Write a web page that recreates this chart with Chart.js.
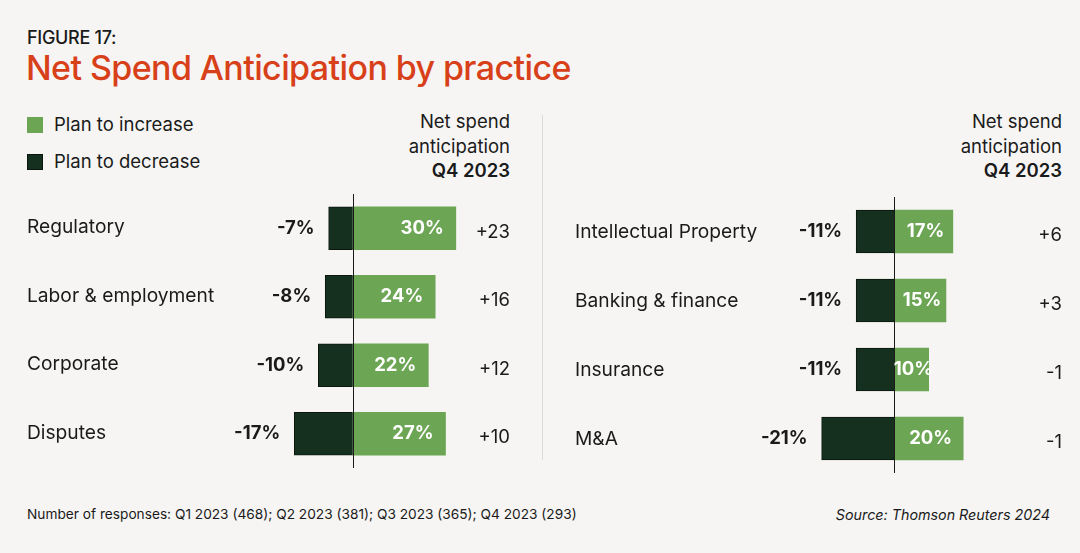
<!DOCTYPE html>
<html>
<head>
<meta charset="utf-8">
<script src="https://cdn.jsdelivr.net/npm/chart.js@4"></script>
<style>
  body { margin: 0; background: #f6f5f3; font-family: Inter, "Noto Sans", sans-serif; color: #1a1a1a; }
  #page { position: relative; width: 1080px; height: 553px; overflow: hidden; }
  .abs { position: absolute; white-space: nowrap; }
  #fig { left: 27px; top: 27px; font-size: 18px; font-weight: 500; letter-spacing: -0.3px; }
  #title { left: 26px; top: 47px; font-size: 34px; font-weight: 500; color: #d8401a; letter-spacing: -0.6px; }
  .legend { left: 27px; font-size: 18.5px; }
  .legend span { display: inline-block; width: 16px; height: 16px; vertical-align: -2px; margin-right: 11px; }
  .head { font-size: 18.5px; line-height: 24.5px; text-align: right; }
  .head b { font-weight: 600; }
  #divider { left: 542px; top: 115px; width: 1px; height: 345px; background: #dcdad6; }
  .foot { top: 506px; font-size: 13.7px; }
  canvas { position: absolute; }
</style>
</head>
<body>
<div id="page">
  <div class="abs" id="fig">FIGURE 17:</div>
  <div class="abs" id="title">Net Spend Anticipation by practice</div>

  <div class="abs legend" style="top:113px"><span style="background:#6ca553"></span>Plan to increase</div>
  <div class="abs legend" style="top:150px"><span style="background:#15301f;border:1px solid #0a160e;width:14px;height:14px"></span>Plan to decrease</div>

  <div class="abs head" style="right:570px; top:109px">Net spend<br>anticipation<br><b>Q4 2023</b></div>
  <div class="abs head" style="right:18px; top:109px">Net spend<br>anticipation<br><b>Q4 2023</b></div>

  <div class="abs" id="divider"></div>

  <canvas id="left-chart" width="540" height="280" style="left:0; top:190px"></canvas>
  <canvas id="right-chart" width="540" height="285" style="left:540px; top:190px"></canvas>

  <div class="abs foot" style="left:27px">Number of responses: Q1 2023 (468); Q2 2023 (381); Q3 2023 (365); Q4 2023 (293)</div>
  <div class="abs foot" style="right:30px; font-style:italic; font-size:14.3px">Source: Thomson Reuters 2024</div>
</div>

<script>
// Left panel
const practicesLeft = ['Regulatory', 'Labor & employment', 'Corporate', 'Disputes'];
const decreaseLeft = [-7, -8, -10, -17];
const increaseLeft = [30, 24, 22, 27];
const netLeft = [23, 16, 12, 10];

// Right panel
const practicesRight = ['Intellectual Property', 'Banking & finance', 'Insurance', 'M&A'];
const decreaseRight = [-11, -11, -11, -21];
const increaseRight = [17, 15, 10, 20];
const netRight = [6, 3, -1, -1];

const GREEN = '#6ca553';
const DARK = '#15301f';
const FONT = 'Inter, "Noto Sans", sans-serif';

// Draws zero line, row labels, value labels and net column
const rowLabels = {
  id: 'rowLabels',
  afterDatasetsDraw(chart, args, opts) {
    const { ctx, chartArea, scales: { x } } = chart;
    const x0 = Math.round(x.getPixelForValue(0)) + 0.5;
    ctx.save();
    ctx.strokeStyle = '#1a1a1a';
    ctx.lineWidth = 1;
    ctx.beginPath();
    ctx.moveTo(x0, chartArea.top);
    ctx.lineTo(x0, chartArea.bottom);
    ctx.stroke();

    const dec = chart.getDatasetMeta(0).data;
    const inc = chart.getDatasetMeta(1).data;
    const decVals = chart.data.datasets[0].data;
    const incVals = chart.data.datasets[1].data;
    ctx.textBaseline = 'middle';

    chart.data.labels.forEach((label, i) => {
      const yc = dec[i].y;

      ctx.font = '400 19.2px ' + FONT;
      ctx.fillStyle = '#1a1a1a';
      ctx.textAlign = 'left';
      ctx.fillText(label, opts.labelX, yc - 1 + opts.labelDy);

      ctx.font = '700 18.5px ' + FONT;
      ctx.textAlign = 'right';
      ctx.fillText(decVals[i] + '%', dec[i].x - 14, yc);

      ctx.fillStyle = '#ffffff';
      if (opts.incAlign === 'center') {
        ctx.textAlign = 'center';
        ctx.fillText(incVals[i] + '%', (inc[i].x + inc[i].base) / 2 + 2, yc);
      } else {
        ctx.textAlign = 'right';
        ctx.fillText(incVals[i] + '%', inc[i].x - 12, yc);
      }

      const n = opts.net[i];
      ctx.font = '400 18.5px ' + FONT;
      ctx.fillStyle = '#1a1a1a';
      ctx.textAlign = 'right';
      ctx.fillText((n > 0 ? '+' : '') + n, opts.netX, yc + 4);
    });
    ctx.restore();
  }
};

function makeChart(id, labels, dec, inc, net, pad, labelOpts) {
  return new Chart(document.getElementById(id), {
    type: 'bar',
    data: {
      labels: labels,
      datasets: [{
        label: 'Plan to decrease',
        data: dec,
        backgroundColor: DARK,
        borderColor: '#0a160e',
        borderWidth: 1,
        barThickness: 43
      }, {
        label: 'Plan to increase',
        data: inc,
        backgroundColor: GREEN,
        borderWidth: 0,
        barThickness: 43
      }]
    },
    options: {
      indexAxis: 'y',
      responsive: false,
      animation: false,
      layout: { padding: pad },
      plugins: {
        legend: { display: false },
        tooltip: { enabled: false },
        rowLabels: Object.assign({ net: net }, labelOpts)
      },
      scales: {
        x: { stacked: true, min: -29, max: 35, display: false },
        y: { stacked: true, display: false }
      }
    },
    plugins: [rowLabels]
  });
}

makeChart('left-chart', practicesLeft, decreaseLeft, increaseLeft, netLeft,
  { left: 253, right: 67, top: 4, bottom: 2 },
  { labelX: 27, labelDy: 0, netX: 510, incAlign: 'right' });

makeChart('right-chart', practicesRight, decreaseRight, increaseRight, netRight,
  { left: 254, right: 65, top: 7, bottom: 2 },
  { labelX: 35, labelDy: 2, netX: 522, incAlign: 'center' });
</script>
</body>
</html>
